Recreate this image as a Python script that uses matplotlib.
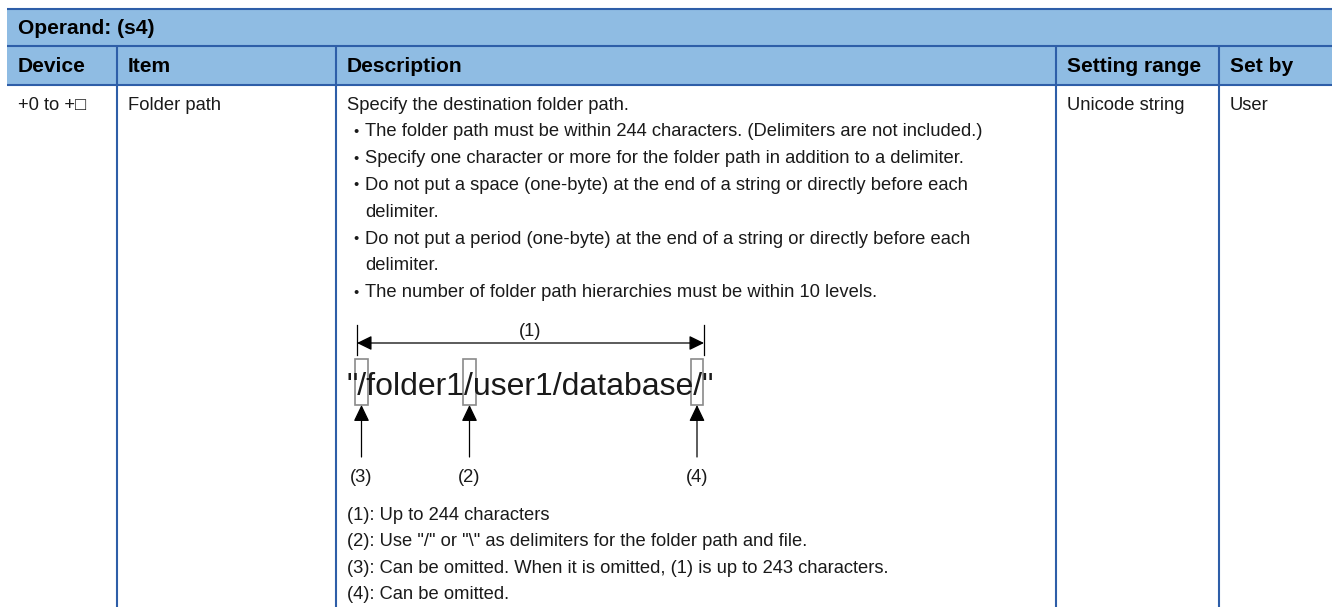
import matplotlib
matplotlib.use("Agg")
import matplotlib.pyplot as plt
from matplotlib.patches import Rectangle, FancyArrowPatch

plt.rcParams['font.family'] = ['Liberation Sans', 'DejaVu Sans']

# table content
operandTitle = "Operand: (s4)"
columns = ["Device", "Item", "Description", "Setting range", "Set by"]
rowCells = ["+0 to +\u25a1", "Folder path", "", "Unicode string", "User"]
descIntro = "Specify the destination folder path."
descBullets = [
    ["The folder path must be within 244 characters. (Delimiters are not included.)"],
    ["Specify one character or more for the folder path in addition to a delimiter."],
    ["Do not put a space (one-byte) at the end of a string or directly before each", "delimiter."],
    ["Do not put a period (one-byte) at the end of a string or directly before each", "delimiter."],
    ["The number of folder path hierarchies must be within 10 levels."],
]
pathText = '"/folder1/user1/database/"'
markLabels = ["(3)", "(2)", "(4)"]
spanLabel = "(1)"
notes = [
    "(1): Up to 244 characters",
    '(2): Use "/" or "\\" as delimiters for the folder path and file.',
    "(3): Can be omitted. When it is omitted, (1) is up to 243 characters.",
    "(4): Can be omitted.",
]

# layout (pixel coordinates)
W, H = 1332, 607
colEdges = [7, 117, 336, 1056, 1219, W]
rowTop, rowMid, rowBody = 9, 46, 85
headFill = "#8fbce3"
lineCol = "#2e5ea8"
textCol = "#1a1a1a"
bodySize = 13.25
headSize = 15.1
lineStep = 26.8

fig = plt.figure(figsize=(W / 100, H / 100), dpi=100)
ax = fig.add_axes([0, 0, 1, 1])
ax.set_xlim(0, W)
ax.set_ylim(H, 0)
ax.axis("off")

# header background and grid
ax.add_patch(Rectangle((colEdges[0], rowTop), W - colEdges[0], rowBody - rowTop,
                       facecolor=headFill, edgecolor="none"))
for y in [rowTop, rowMid, rowBody]:
    ax.plot([colEdges[0], W], [y, y], color=lineCol, lw=1.5, solid_capstyle="butt")
for x in colEdges[1:-1]:
    ax.plot([x, x], [rowMid, H], color=lineCol, lw=1.5, solid_capstyle="butt")

ax.text(colEdges[0] + 11, 34.5, operandTitle, fontsize=headSize, fontweight="bold", va="baseline")
for i, name in enumerate(columns):
    ax.text(colEdges[i] + 11, 72.5, name, fontsize=headSize, fontweight="bold", va="baseline")
for i, cell in enumerate(rowCells):
    if cell:
        ax.text(colEdges[i] + 11, 109.5, cell, fontsize=bodySize, va="baseline", color=textCol)

# description text
xDesc = colEdges[2] + 11
y = 109.5
ax.text(xDesc, y, descIntro, fontsize=bodySize, va="baseline", color=textCol)
for lines in descBullets:
    y += lineStep
    ax.text(xDesc + 8.5, y - 4.5, "\u2022", fontsize=10.5, ha="center", va="center", color=textCol)
    for k, line in enumerate(lines):
        if k > 0:
            y += lineStep
        ax.text(xDesc + 18, y, line, fontsize=bodySize, va="baseline", color=textCol)

# path diagram
ax.text(347, 395, pathText, fontsize=23, va="baseline", color=textCol)
spanL, spanR, spanY = 357, 704, 343
for x in [spanL, spanR]:
    ax.plot([x, x], [325, 355], color="black", lw=0.9)
ax.add_patch(FancyArrowPatch((spanL, spanY), (spanR, spanY), arrowstyle="<|-|>,head_length=0.45,head_width=0.22",
                             mutation_scale=20, color="black", lw=0.9, shrinkA=0, shrinkB=0))
ax.text((spanL + spanR) / 2, 336.5, spanLabel, fontsize=bodySize, ha="center", va="baseline", color=textCol)

boxes = [(355, 368), (463, 476), (691, 703)]
for (x0, x1), lab in zip(boxes, markLabels):
    ax.add_patch(Rectangle((x0, 359), x1 - x0, 46, facecolor="none", edgecolor="#8a8a8a", lw=1.2))
    xc = (x0 + x1) / 2
    ax.add_patch(FancyArrowPatch((xc, 457), (xc, 405), arrowstyle="-|>,head_length=0.5,head_width=0.24",
                                 mutation_scale=20, color="black", lw=0.9, shrinkA=0, shrinkB=0))
    ax.text(xc, 481.5, lab, fontsize=bodySize, ha="center", va="baseline", color=textCol)

# notes
y = 520
for note in notes:
    ax.text(xDesc, y, note, fontsize=bodySize, va="baseline", color=textCol)
    y += 26.4

fig.savefig("out.png", dpi=100)
